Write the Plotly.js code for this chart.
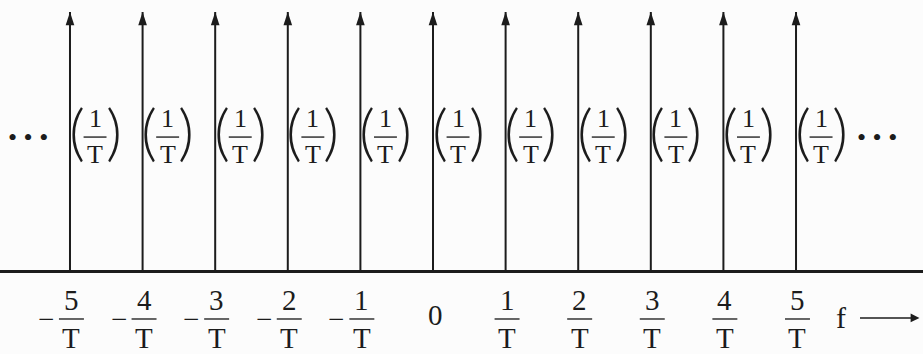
<!DOCTYPE html>
<html>
<head>
<meta charset="utf-8">
<script src="https://cdn.plot.ly/plotly-3.0.1.min.js"></script>
<style>
  html, body { margin: 0; padding: 0; background: #fcfcfc; }
  #chart { width: 923px; height: 354px; }
</style>
</head>
<body>
<div id="chart"></div>
<script>
// Spectrum of an ideal impulse train: spikes at f = k/T, each of area 1/T
const harmonics = [-5, -4, -3, -2, -1, 0, 1, 2, 3, 4, 5];
const impulseHeights = [1, 1, 1, 1, 1, 1, 1, 1, 1, 1, 1];
const weightNumerators = ['1', '1', '1', '1', '1', '1', '1', '1', '1', '1', '1'];
const weightDenominators = ['T', 'T', 'T', 'T', 'T', 'T', 'T', 'T', 'T', 'T', 'T'];
const tickSigns = ['\u2212', '\u2212', '\u2212', '\u2212', '\u2212', '', '', '', '', '', ''];
const tickNumerators = ['5', '4', '3', '2', '1', '0', '1', '2', '3', '4', '5'];
const tickDenominators = ['T', 'T', 'T', 'T', 'T', '', 'T', 'T', 'T', 'T', 'T'];
const axisSymbol = 'f';
const ellipsis = '\u2022 \u2022 \u2022';

const ink = '#1c1c1c';
const serif = 'Liberation Serif, Times New Roman, serif';
const parenFont = { family: 'Lato, sans-serif', weight: 300 };

// vertical placement of the annotation rows (in y-axis units)
const rowWeightNum = 0.588, rowWeightBar = 0.518, rowWeightDen = 0.451, rowParen = 0.545;
const rowTickNum = -0.110, rowTickBar = -0.183, rowTickDen = -0.256, rowZero = -0.168;

const annotations = [];
const shapes = [];

function txt(x, y, text, size, extra, font) {
  return Object.assign({
    x: x, y: y, xref: 'x', yref: 'y', text: text, showarrow: false,
    xanchor: 'center', yanchor: 'middle',
    font: Object.assign({ family: serif, size: size, color: ink }, font || {})
  }, extra || {});
}
function bar(x0, x1, y) {
  return { type: 'line', xref: 'x', yref: 'y', x0: x0, x1: x1, y0: y, y1: y,
           line: { color: '#333', width: 1.5 } };
}

const stemX = [], stemY = [];
harmonics.forEach((k, i) => {
  // vertical stem of each impulse
  stemX.push(k, k, null);
  stemY.push(0, impulseHeights[i], null);

  // weight label (1/T) just to the right of the impulse
  const c = k + 0.345;
  annotations.push(txt(k + 0.09, rowParen, '(', 62, null, parenFont));
  annotations.push(txt(k + 0.60, rowParen, ')', 62, null, parenFont));
  annotations.push(txt(c, rowWeightNum, weightNumerators[i], 26));
  annotations.push(txt(c, rowWeightDen, weightDenominators[i], 26));
  shapes.push(bar(c - 0.158, c + 0.158, rowWeightBar));

  // frequency label k/T under the axis
  if (tickDenominators[i] === '') {
    annotations.push(txt(k + 0.04, rowZero, tickNumerators[i], 29));
  } else {
    const t = k + 0.02;
    annotations.push(txt(t, rowTickNum, tickNumerators[i], 29));
    annotations.push(txt(t, rowTickDen, tickDenominators[i], 29));
    shapes.push(bar(t - 0.172, t + 0.172, rowTickBar));
    if (tickSigns[i]) annotations.push(txt(k - 0.33, rowTickBar, tickSigns[i], 29));
  }
});

// continuation dots on both sides
annotations.push(txt(-5.58, 0.518, ellipsis, 26));
annotations.push(txt(6.12, 0.518, ellipsis, 26));

// frequency axis symbol and its arrow
annotations.push(txt(5.72, -0.179, axisSymbol, 30, { xanchor: 'right' }));
annotations.push({
  x: 6.70, y: -0.179, ax: 5.86, ay: -0.179,
  xref: 'x', yref: 'y', axref: 'x', ayref: 'y',
  text: '', showarrow: true, arrowhead: 2, arrowsize: 1.1,
  arrowwidth: 1.6, arrowcolor: ink, standoff: 0
});

const traces = [
  { x: stemX, y: stemY, type: 'scatter', mode: 'lines',
    line: { color: ink, width: 2 }, hoverinfo: 'skip' },
  { x: harmonics, y: impulseHeights, type: 'scatter', mode: 'markers',
    marker: { symbol: 'arrow', size: 14, color: ink, angle: 0, line: { width: 0 } },
    hoverinfo: 'skip' }
];

const layout = {
  width: 923, height: 354,
  margin: { l: 0, r: 0, t: 0, b: 0 },
  paper_bgcolor: '#fcfcfc', plot_bgcolor: '#fcfcfc',
  showlegend: false,
  xaxis: { range: [-5.964, 6.749], showgrid: false, zeroline: false,
           showticklabels: false, ticks: '', fixedrange: true },
  yaxis: { range: [-0.3179, 1.0462], showgrid: false, zeroline: true,
           zerolinecolor: ink, zerolinewidth: 3,
           showticklabels: false, ticks: '', fixedrange: true },
  annotations: annotations,
  shapes: shapes
};

Plotly.newPlot('chart', traces, layout, { staticPlot: true, displayModeBar: false });
</script>
</body>
</html>
